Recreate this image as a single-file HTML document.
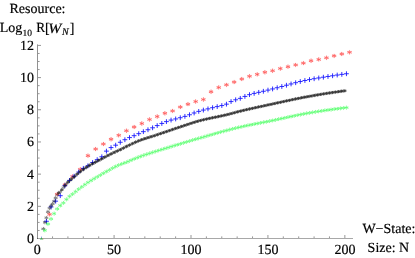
<!DOCTYPE html>
<html><head><meta charset="utf-8"><title>chart</title>
<style>html,body{margin:0;padding:0;background:#fff;width:415px;height:258px;overflow:hidden}body{position:relative;font-family:"Liberation Serif",serif}</style>
</head><body>
<svg width="415" height="258" viewBox="0 0 415 258" style="position:absolute;left:0;top:0;will-change:transform">
<defs>
<clipPath id="cp"><rect x="37" y="40" width="320" height="199.6"/></clipPath>
<path id="mr" d="M-2.15,-0.52L-1.82,-1.27L-0.18,-0.26L-0.40,-1.96L0.41,-1.96L0.17,-0.26L1.82,-1.24L2.15,-0.51L0.42,0.00L2.15,0.50L1.82,1.24L0.17,0.26L0.41,1.95L-0.40,1.95L-0.18,0.24L-1.82,1.26L-2.15,0.52L-0.44,0.00Z" fill="#ff2020" fill-opacity="0.74" stroke="#ff2020" stroke-opacity="0.74" stroke-width="0.18" stroke-linejoin="round"/>
<g id="mb" stroke="#1a1aff" stroke-width="0.9" fill="none"><path d="M-2.4,0H2.4M0,-2.4V2.4"/></g>
<g id="mk"><circle r="1.4" fill="#181818" fill-opacity="0.55"/><path d="M-1.80,-0.44L-1.52,-1.06L-0.15,-0.21L-0.34,-1.64L0.34,-1.64L0.14,-0.21L1.52,-1.04L1.80,-0.43L0.35,0.00L1.80,0.42L1.52,1.04L0.14,0.22L0.34,1.63L-0.34,1.63L-0.15,0.20L-1.52,1.05L-1.80,0.43L-0.37,0.00Z" fill="#101010" fill-opacity="0.5" stroke="#101010" stroke-opacity="0.5" stroke-width="0.1" stroke-linejoin="round"/></g><path id="mk2" d="M-1.80,-0.44L-1.52,-1.06L-0.15,-0.21L-0.34,-1.64L0.34,-1.64L0.14,-0.21L1.52,-1.04L1.80,-0.43L0.35,0.00L1.80,0.42L1.52,1.04L0.14,0.22L0.34,1.63L-0.34,1.63L-0.15,0.20L-1.52,1.05L-1.80,0.43L-0.37,0.00Z" fill="#101010" fill-opacity="0.45" stroke="#101010" stroke-opacity="0.45" stroke-width="0.15" stroke-linejoin="round"/><path id="mk0" d="M-1.90,-0.46L-1.61,-1.12L-0.16,-0.23L-0.35,-1.73L0.36,-1.73L0.15,-0.23L1.61,-1.10L1.90,-0.45L0.37,0.00L1.90,0.45L1.61,1.09L0.15,0.23L0.36,1.73L-0.35,1.73L-0.16,0.22L-1.61,1.11L-1.90,0.46L-0.39,0.00Z" fill="#101010" fill-opacity="0.6" stroke="#101010" stroke-opacity="0.6" stroke-width="0.15" stroke-linejoin="round"/>
<path id="mg" d="M-2.00,-0.48L-1.69,-1.18L-0.16,-0.24L-0.37,-1.82L0.38,-1.82L0.15,-0.24L1.69,-1.16L2.00,-0.47L0.39,0.00L2.00,0.47L1.69,1.15L0.15,0.24L0.38,1.82L-0.37,1.82L-0.16,0.23L-1.69,1.17L-2.00,0.48L-0.41,0.00Z" fill="#20ff40" fill-opacity="0.72" stroke="#20ff40" stroke-opacity="0.72" stroke-width="0.12" stroke-linejoin="round"/>
</defs>
<path d="M37.5,44.4V239" stroke="#000" stroke-opacity="0.43" stroke-width="1" fill="none"/><path d="M37,238.5H353" stroke="#000" stroke-opacity="0.34" stroke-width="1" fill="none"/><path d="M38,230.46h1.6M38,222.41h1.6M38,214.37h1.6M38,206.32h3.0M38,198.28h1.6M38,190.23h1.6M38,182.19h1.6M38,174.14h3.0M38,166.09h1.6M38,158.05h1.6M38,150.00h1.6M38,141.96h3.0M38,133.92h1.6M38,125.87h1.6M38,117.83h1.6M38,109.78h3.0M38,101.74h1.6M38,93.69h1.6M38,85.65h1.6M38,77.60h3.0M38,69.56h1.6M38,61.51h1.6M38,53.47h1.6M38,45.42h3.0M52.54,238v-1.6M67.92,238v-1.6M83.31,238v-1.6M98.69,238v-1.6M114.08,238v-3.0M129.46,238v-1.6M144.84,238v-1.6M160.23,238v-1.6M175.62,238v-1.6M191.00,238v-3.0M206.38,238v-1.6M221.77,238v-1.6M237.15,238v-1.6M252.54,238v-1.6M267.93,238v-3.0M283.31,238v-1.6M298.69,238v-1.6M314.08,238v-1.6M329.46,238v-1.6M344.85,238v-3.0" stroke="#000" stroke-opacity="0.55" stroke-width="0.75" fill="none"/>
<g clip-path="url(#cp)">
<use href="#mr" x="49.51" y="214.37"/><use href="#mr" x="57.20" y="194.25"/><use href="#mr" x="64.89" y="184.76"/><use href="#mr" x="72.59" y="176.55"/><use href="#mr" x="80.28" y="169.31"/><use href="#mr" x="87.97" y="155.64"/><use href="#mr" x="95.66" y="149.04"/><use href="#mr" x="103.36" y="144.05"/><use href="#mr" x="111.05" y="139.22"/><use href="#mr" x="118.74" y="135.36"/><use href="#mr" x="126.43" y="130.70"/><use href="#mr" x="134.13" y="127.00"/><use href="#mr" x="141.82" y="123.46"/><use href="#mr" x="149.51" y="119.43"/><use href="#mr" x="157.20" y="116.54"/><use href="#mr" x="164.90" y="113.32"/><use href="#mr" x="172.59" y="110.91"/><use href="#mr" x="180.28" y="107.04"/><use href="#mr" x="187.97" y="104.15"/><use href="#mr" x="195.67" y="101.57"/><use href="#mr" x="203.36" y="99.48"/><use href="#mr" x="211.05" y="91.76"/><use href="#mr" x="218.74" y="87.41"/><use href="#mr" x="226.44" y="84.84"/><use href="#mr" x="234.13" y="82.11"/><use href="#mr" x="241.82" y="79.05"/><use href="#mr" x="249.51" y="76.31"/><use href="#mr" x="257.21" y="74.38"/><use href="#mr" x="264.90" y="72.29"/><use href="#mr" x="272.59" y="70.68"/><use href="#mr" x="280.28" y="68.59"/><use href="#mr" x="287.98" y="66.66"/><use href="#mr" x="295.67" y="64.89"/><use href="#mr" x="303.36" y="63.12"/><use href="#mr" x="311.05" y="60.71"/><use href="#mr" x="318.75" y="59.42"/><use href="#mr" x="326.44" y="57.81"/><use href="#mr" x="334.13" y="55.88"/><use href="#mr" x="341.82" y="53.95"/><use href="#mr" x="349.52" y="52.34"/>
<use href="#mb" x="46.43" y="221.28"/><use href="#mb" x="51.05" y="206.96"/><use href="#mb" x="55.66" y="201.17"/><use href="#mb" x="60.28" y="195.70"/><use href="#mb" x="64.89" y="185.72"/><use href="#mb" x="69.51" y="180.42"/><use href="#mb" x="74.12" y="176.23"/><use href="#mb" x="78.74" y="172.05"/><use href="#mb" x="83.36" y="168.35"/><use href="#mb" x="87.97" y="165.77"/><use href="#mb" x="92.59" y="162.56"/><use href="#mb" x="97.20" y="159.66"/><use href="#mb" x="101.82" y="156.76"/><use href="#mb" x="106.43" y="151.13"/><use href="#mb" x="111.05" y="147.59"/><use href="#mb" x="115.66" y="145.18"/><use href="#mb" x="120.28" y="142.28"/><use href="#mb" x="124.89" y="139.71"/><use href="#mb" x="129.51" y="137.59"/><use href="#mb" x="134.13" y="135.68"/><use href="#mb" x="138.74" y="133.66"/><use href="#mb" x="143.36" y="131.66"/><use href="#mb" x="147.97" y="129.75"/><use href="#mb" x="152.59" y="127.80"/><use href="#mb" x="157.20" y="125.59"/><use href="#mb" x="161.82" y="123.46"/><use href="#mb" x="166.43" y="121.62"/><use href="#mb" x="171.05" y="120.08"/><use href="#mb" x="175.67" y="118.95"/><use href="#mb" x="180.28" y="117.73"/><use href="#mb" x="184.90" y="116.38"/><use href="#mb" x="189.51" y="114.76"/><use href="#mb" x="194.13" y="112.99"/><use href="#mb" x="198.74" y="111.39"/><use href="#mb" x="203.36" y="110.07"/><use href="#mb" x="207.97" y="108.87"/><use href="#mb" x="212.59" y="107.69"/><use href="#mb" x="217.20" y="106.62"/><use href="#mb" x="221.82" y="105.56"/><use href="#mb" x="226.44" y="104.15"/><use href="#mb" x="231.05" y="101.57"/><use href="#mb" x="235.67" y="99.80"/><use href="#mb" x="240.28" y="98.36"/><use href="#mb" x="244.90" y="96.43"/><use href="#mb" x="249.51" y="94.66"/><use href="#mb" x="254.13" y="93.40"/><use href="#mb" x="258.74" y="92.35"/><use href="#mb" x="263.36" y="91.28"/><use href="#mb" x="267.98" y="90.11"/><use href="#mb" x="272.59" y="88.93"/><use href="#mb" x="277.21" y="87.74"/><use href="#mb" x="281.82" y="86.51"/><use href="#mb" x="286.44" y="85.23"/><use href="#mb" x="291.05" y="83.94"/><use href="#mb" x="295.67" y="82.70"/><use href="#mb" x="300.28" y="81.53"/><use href="#mb" x="304.90" y="80.50"/><use href="#mb" x="309.51" y="79.58"/><use href="#mb" x="314.13" y="78.74"/><use href="#mb" x="318.75" y="77.96"/><use href="#mb" x="323.36" y="77.21"/><use href="#mb" x="327.98" y="76.47"/><use href="#mb" x="332.59" y="75.75"/><use href="#mb" x="337.21" y="75.05"/><use href="#mb" x="341.82" y="74.38"/><use href="#mb" x="346.44" y="73.74"/>
<use href="#mk0" x="43.35" y="228.85"/><use href="#mk0" x="44.89" y="222.41"/><use href="#mk0" x="46.43" y="217.74"/><use href="#mk0" x="47.97" y="211.79"/><use href="#mk0" x="49.51" y="208.25"/><use href="#mk0" x="51.05" y="206.00"/><use href="#mk0" x="52.59" y="203.91"/><use href="#mk0" x="54.12" y="201.33"/><use href="#mk0" x="55.66" y="197.90"/>
<use href="#mk2" x="57.20" y="194.74"/><use href="#mk2" x="60.28" y="191.75"/><use href="#mk2" x="63.35" y="187.63"/><use href="#mk2" x="66.43" y="183.82"/><use href="#mk2" x="69.51" y="180.74"/><use href="#mk2" x="72.59" y="178.14"/><use href="#mk2" x="75.66" y="175.43"/><use href="#mk2" x="78.74" y="172.75"/><use href="#mk2" x="81.82" y="170.47"/><use href="#mk2" x="84.89" y="168.34"/><use href="#mk2" x="87.97" y="166.34"/><use href="#mk2" x="91.05" y="164.52"/><use href="#mk2" x="94.12" y="162.87"/><use href="#mk2" x="97.20" y="161.28"/><use href="#mk2" x="100.28" y="159.63"/><use href="#mk2" x="103.36" y="157.94"/><use href="#mk2" x="106.43" y="156.28"/><use href="#mk2" x="109.51" y="154.70"/><use href="#mk2" x="112.59" y="153.20"/><use href="#mk2" x="115.66" y="151.76"/><use href="#mk2" x="118.74" y="150.37"/><use href="#mk2" x="121.82" y="148.90"/><use href="#mk2" x="124.89" y="147.30"/><use href="#mk2" x="127.97" y="145.76"/><use href="#mk2" x="131.05" y="144.28"/><use href="#mk2" x="134.13" y="142.82"/><use href="#mk2" x="137.20" y="141.47"/><use href="#mk2" x="140.28" y="140.27"/><use href="#mk2" x="143.36" y="139.19"/><use href="#mk2" x="146.43" y="138.18"/><use href="#mk2" x="149.51" y="137.22"/><use href="#mk2" x="152.59" y="136.27"/><use href="#mk2" x="155.66" y="135.28"/><use href="#mk2" x="158.74" y="134.24"/><use href="#mk2" x="161.82" y="133.19"/><use href="#mk2" x="164.90" y="132.14"/><use href="#mk2" x="167.97" y="131.08"/><use href="#mk2" x="171.05" y="130.03"/><use href="#mk2" x="174.13" y="128.98"/><use href="#mk2" x="177.20" y="127.95"/><use href="#mk2" x="180.28" y="126.93"/><use href="#mk2" x="183.36" y="125.89"/><use href="#mk2" x="186.43" y="124.84"/><use href="#mk2" x="189.51" y="123.82"/><use href="#mk2" x="192.59" y="122.82"/><use href="#mk2" x="195.67" y="121.86"/><use href="#mk2" x="198.74" y="120.98"/><use href="#mk2" x="201.82" y="120.16"/><use href="#mk2" x="204.90" y="119.42"/><use href="#mk2" x="207.97" y="118.73"/><use href="#mk2" x="211.05" y="118.08"/><use href="#mk2" x="214.13" y="117.44"/><use href="#mk2" x="217.20" y="116.82"/><use href="#mk2" x="220.28" y="116.18"/><use href="#mk2" x="223.36" y="115.52"/><use href="#mk2" x="226.44" y="114.82"/><use href="#mk2" x="229.51" y="114.05"/><use href="#mk2" x="232.59" y="113.22"/><use href="#mk2" x="235.67" y="112.36"/><use href="#mk2" x="238.74" y="111.55"/><use href="#mk2" x="241.82" y="110.80"/><use href="#mk2" x="244.90" y="110.07"/><use href="#mk2" x="247.97" y="109.35"/><use href="#mk2" x="251.05" y="108.66"/><use href="#mk2" x="254.13" y="107.97"/><use href="#mk2" x="257.21" y="107.30"/><use href="#mk2" x="260.28" y="106.63"/><use href="#mk2" x="263.36" y="105.97"/><use href="#mk2" x="266.44" y="105.30"/><use href="#mk2" x="269.51" y="104.64"/><use href="#mk2" x="272.59" y="103.98"/><use href="#mk2" x="275.67" y="103.30"/><use href="#mk2" x="278.74" y="102.63"/><use href="#mk2" x="281.82" y="101.95"/><use href="#mk2" x="284.90" y="101.28"/><use href="#mk2" x="287.98" y="100.61"/><use href="#mk2" x="291.05" y="99.95"/><use href="#mk2" x="294.13" y="99.30"/><use href="#mk2" x="297.21" y="98.66"/><use href="#mk2" x="300.28" y="98.04"/><use href="#mk2" x="303.36" y="97.44"/><use href="#mk2" x="306.44" y="96.87"/><use href="#mk2" x="309.51" y="96.31"/><use href="#mk2" x="312.59" y="95.77"/><use href="#mk2" x="315.67" y="95.24"/><use href="#mk2" x="318.75" y="94.72"/><use href="#mk2" x="321.82" y="94.21"/><use href="#mk2" x="324.90" y="93.71"/><use href="#mk2" x="327.98" y="93.22"/><use href="#mk2" x="331.05" y="92.75"/><use href="#mk2" x="334.13" y="92.29"/><use href="#mk2" x="337.21" y="91.85"/><use href="#mk2" x="340.28" y="91.41"/><use href="#mk2" x="343.36" y="91.00"/>
<use href="#mk" x="58.74" y="192.85"/><use href="#mk" x="61.82" y="189.84"/><use href="#mk" x="64.89" y="185.56"/><use href="#mk" x="67.97" y="182.22"/><use href="#mk" x="71.05" y="179.40"/><use href="#mk" x="74.12" y="176.82"/><use href="#mk" x="77.20" y="174.04"/><use href="#mk" x="80.28" y="171.58"/><use href="#mk" x="83.36" y="169.41"/><use href="#mk" x="86.43" y="167.32"/><use href="#mk" x="89.51" y="165.40"/><use href="#mk" x="92.59" y="163.68"/><use href="#mk" x="95.66" y="162.08"/><use href="#mk" x="98.74" y="160.46"/><use href="#mk" x="101.82" y="158.78"/><use href="#mk" x="104.89" y="157.10"/><use href="#mk" x="107.97" y="155.48"/><use href="#mk" x="111.05" y="153.94"/><use href="#mk" x="114.12" y="152.47"/><use href="#mk" x="117.20" y="151.07"/><use href="#mk" x="120.28" y="149.66"/><use href="#mk" x="123.36" y="148.11"/><use href="#mk" x="126.43" y="146.51"/><use href="#mk" x="129.51" y="145.03"/><use href="#mk" x="132.59" y="143.54"/><use href="#mk" x="135.66" y="142.13"/><use href="#mk" x="138.74" y="140.85"/><use href="#mk" x="141.82" y="139.71"/><use href="#mk" x="144.89" y="138.68"/><use href="#mk" x="147.97" y="137.70"/><use href="#mk" x="151.05" y="136.75"/><use href="#mk" x="154.13" y="135.78"/><use href="#mk" x="157.20" y="134.77"/><use href="#mk" x="160.28" y="133.70"/><use href="#mk" x="163.36" y="132.67"/><use href="#mk" x="166.43" y="131.61"/><use href="#mk" x="169.51" y="130.56"/><use href="#mk" x="172.59" y="129.50"/><use href="#mk" x="175.67" y="128.46"/><use href="#mk" x="178.74" y="127.44"/><use href="#mk" x="181.82" y="126.41"/><use href="#mk" x="184.90" y="125.37"/><use href="#mk" x="187.97" y="124.33"/><use href="#mk" x="191.05" y="123.31"/><use href="#mk" x="194.13" y="122.33"/><use href="#mk" x="197.20" y="121.41"/><use href="#mk" x="200.28" y="120.56"/><use href="#mk" x="203.36" y="119.79"/><use href="#mk" x="206.44" y="119.07"/><use href="#mk" x="209.51" y="118.40"/><use href="#mk" x="212.59" y="117.76"/><use href="#mk" x="215.67" y="117.13"/><use href="#mk" x="218.74" y="116.50"/><use href="#mk" x="221.82" y="115.85"/><use href="#mk" x="224.90" y="115.17"/><use href="#mk" x="227.97" y="114.45"/><use href="#mk" x="231.05" y="113.64"/><use href="#mk" x="234.13" y="112.79"/><use href="#mk" x="237.20" y="111.94"/><use href="#mk" x="240.28" y="111.17"/><use href="#mk" x="243.36" y="110.43"/><use href="#mk" x="246.44" y="109.71"/><use href="#mk" x="249.51" y="109.00"/><use href="#mk" x="252.59" y="108.31"/><use href="#mk" x="255.67" y="107.63"/><use href="#mk" x="258.74" y="106.96"/><use href="#mk" x="261.82" y="106.30"/><use href="#mk" x="264.90" y="105.64"/><use href="#mk" x="267.98" y="104.97"/><use href="#mk" x="271.05" y="104.31"/><use href="#mk" x="274.13" y="103.64"/><use href="#mk" x="277.21" y="102.97"/><use href="#mk" x="280.28" y="102.29"/><use href="#mk" x="283.36" y="101.61"/><use href="#mk" x="286.44" y="100.94"/><use href="#mk" x="289.51" y="100.28"/><use href="#mk" x="292.59" y="99.62"/><use href="#mk" x="295.67" y="98.98"/><use href="#mk" x="298.75" y="98.35"/><use href="#mk" x="301.82" y="97.74"/><use href="#mk" x="304.90" y="97.15"/><use href="#mk" x="307.98" y="96.59"/><use href="#mk" x="311.05" y="96.04"/><use href="#mk" x="314.13" y="95.50"/><use href="#mk" x="317.21" y="94.98"/><use href="#mk" x="320.28" y="94.46"/><use href="#mk" x="323.36" y="93.96"/><use href="#mk" x="326.44" y="93.47"/><use href="#mk" x="329.51" y="92.99"/><use href="#mk" x="332.59" y="92.52"/><use href="#mk" x="335.67" y="92.07"/><use href="#mk" x="338.75" y="91.63"/><use href="#mk" x="341.82" y="91.20"/><use href="#mk" x="344.90" y="90.79"/>
<use href="#mg" x="44.89" y="230.46"/><use href="#mg" x="47.97" y="224.02"/><use href="#mg" x="51.05" y="218.87"/><use href="#mg" x="54.12" y="213.56"/><use href="#mg" x="57.20" y="208.89"/><use href="#mg" x="60.28" y="205.52"/><use href="#mg" x="63.35" y="202.94"/><use href="#mg" x="66.43" y="199.40"/><use href="#mg" x="69.51" y="196.34"/><use href="#mg" x="72.59" y="194.18"/><use href="#mg" x="75.66" y="191.62"/><use href="#mg" x="78.74" y="189.18"/><use href="#mg" x="81.82" y="186.83"/><use href="#mg" x="84.89" y="184.58"/><use href="#mg" x="87.97" y="182.45"/><use href="#mg" x="91.05" y="180.49"/><use href="#mg" x="94.12" y="178.66"/><use href="#mg" x="97.20" y="176.88"/><use href="#mg" x="100.28" y="175.09"/><use href="#mg" x="103.36" y="173.29"/><use href="#mg" x="106.43" y="171.53"/><use href="#mg" x="109.51" y="169.83"/><use href="#mg" x="112.59" y="168.14"/><use href="#mg" x="115.66" y="166.55"/><use href="#mg" x="118.74" y="165.13"/><use href="#mg" x="121.82" y="163.92"/><use href="#mg" x="124.89" y="162.78"/><use href="#mg" x="127.97" y="161.58"/><use href="#mg" x="131.05" y="160.25"/><use href="#mg" x="134.13" y="158.90"/><use href="#mg" x="137.20" y="157.65"/><use href="#mg" x="140.28" y="156.51"/><use href="#mg" x="143.36" y="155.44"/><use href="#mg" x="146.43" y="154.40"/><use href="#mg" x="149.51" y="153.40"/><use href="#mg" x="152.59" y="152.42"/><use href="#mg" x="155.66" y="151.45"/><use href="#mg" x="158.74" y="150.47"/><use href="#mg" x="161.82" y="149.49"/><use href="#mg" x="164.90" y="148.53"/><use href="#mg" x="167.97" y="147.57"/><use href="#mg" x="171.05" y="146.61"/><use href="#mg" x="174.13" y="145.67"/><use href="#mg" x="177.20" y="144.73"/><use href="#mg" x="180.28" y="143.81"/><use href="#mg" x="183.36" y="142.88"/><use href="#mg" x="186.43" y="141.97"/><use href="#mg" x="189.51" y="141.06"/><use href="#mg" x="192.59" y="140.16"/><use href="#mg" x="195.67" y="139.27"/><use href="#mg" x="198.74" y="138.38"/><use href="#mg" x="201.82" y="137.48"/><use href="#mg" x="204.90" y="136.59"/><use href="#mg" x="207.97" y="135.69"/><use href="#mg" x="211.05" y="134.80"/><use href="#mg" x="214.13" y="133.92"/><use href="#mg" x="217.20" y="133.04"/><use href="#mg" x="220.28" y="132.17"/><use href="#mg" x="223.36" y="131.32"/><use href="#mg" x="226.44" y="130.49"/><use href="#mg" x="229.51" y="129.68"/><use href="#mg" x="232.59" y="128.89"/><use href="#mg" x="235.67" y="128.13"/><use href="#mg" x="238.74" y="127.40"/><use href="#mg" x="241.82" y="126.70"/><use href="#mg" x="244.90" y="126.03"/><use href="#mg" x="247.97" y="125.38"/><use href="#mg" x="251.05" y="124.75"/><use href="#mg" x="254.13" y="124.14"/><use href="#mg" x="257.21" y="123.54"/><use href="#mg" x="260.28" y="122.94"/><use href="#mg" x="263.36" y="122.34"/><use href="#mg" x="266.44" y="121.73"/><use href="#mg" x="269.51" y="121.12"/><use href="#mg" x="272.59" y="120.48"/><use href="#mg" x="275.67" y="119.83"/><use href="#mg" x="278.74" y="119.17"/><use href="#mg" x="281.82" y="118.50"/><use href="#mg" x="284.90" y="117.83"/><use href="#mg" x="287.98" y="117.16"/><use href="#mg" x="291.05" y="116.49"/><use href="#mg" x="294.13" y="115.84"/><use href="#mg" x="297.21" y="115.20"/><use href="#mg" x="300.28" y="114.58"/><use href="#mg" x="303.36" y="113.99"/><use href="#mg" x="306.44" y="113.43"/><use href="#mg" x="309.51" y="112.90"/><use href="#mg" x="312.59" y="112.38"/><use href="#mg" x="315.67" y="111.88"/><use href="#mg" x="318.75" y="111.39"/><use href="#mg" x="321.82" y="110.91"/><use href="#mg" x="324.90" y="110.44"/><use href="#mg" x="327.98" y="109.99"/><use href="#mg" x="331.05" y="109.56"/><use href="#mg" x="334.13" y="109.13"/><use href="#mg" x="337.21" y="108.73"/><use href="#mg" x="340.28" y="108.34"/><use href="#mg" x="343.36" y="107.96"/><use href="#mg" x="346.44" y="107.61"/>
</g>
<g><rect x="41" y="236.6" width="1" height="1" fill="#7070ff" fill-opacity="0.8"/><path d="M41.5,237.3L43.2,239.6H39.8Z" fill="#2aa848" fill-opacity="0.85"/><rect x="42.6" y="238" width="1" height="1.6" fill="#d08060" fill-opacity="0.45"/></g>
<g font-family="Liberation Serif, serif" font-size="14px" fill="#000" stroke="#000" stroke-width="0.18" text-rendering="geometricPrecision">
<text transform="translate(34.00,242.90) scale(1.0,1)" text-anchor="end">0</text>
<text transform="translate(34.00,210.72) scale(1.0,1)" text-anchor="end">2</text>
<text transform="translate(34.00,178.54) scale(1.0,1)" text-anchor="end">4</text>
<text transform="translate(34.00,146.36) scale(1.0,1)" text-anchor="end">6</text>
<text transform="translate(34.00,114.18) scale(1.0,1)" text-anchor="end">8</text>
<text transform="translate(34.00,82.00) scale(1.0,1)" text-anchor="end">10</text>
<text transform="translate(34.00,49.82) scale(1.0,1)" text-anchor="end">12</text>
<text transform="translate(37.20,254.30) scale(1.0,1)" text-anchor="middle">0</text>
<text transform="translate(114.12,254.30) scale(1.0,1)" text-anchor="middle">50</text>
<text transform="translate(191.05,254.30) scale(1.0,1)" text-anchor="middle">100</text>
<text transform="translate(267.98,254.30) scale(1.0,1)" text-anchor="middle">150</text>
<text transform="translate(344.90,254.30) scale(1.0,1)" text-anchor="middle">200</text>
<text transform="translate(37.50,12.80) scale(1.0,1)" text-anchor="middle">Resource:</text>
<text transform="translate(-0.30,32.45) scale(1.0,1)">Log</text>
<text transform="translate(22.40,35.60) scale(1.0,1)" font-size="9.5px">10</text>
<text transform="translate(36.30,32.45) scale(0.95,1)">R</text>
<text transform="translate(44.90,32.50) scale(0.95,1)" font-size="14.6px">[</text>
<text transform="translate(48.20,32.60) scale(1.1,1)" font-size="14.3px" font-style="italic">W</text>
<text transform="translate(62.10,35.20) scale(1.0,1)" font-size="10px" font-style="italic">N</text>
<text transform="translate(69.70,32.50) scale(0.95,1)" font-size="14.6px">]</text>
<text transform="translate(388.90,232.50) scale(1.0,1)" text-anchor="middle">W−State:</text>
<text transform="translate(388.40,251.90) scale(1.0,1)" text-anchor="middle">Size: N</text>
</g>
</svg>
</body></html>
